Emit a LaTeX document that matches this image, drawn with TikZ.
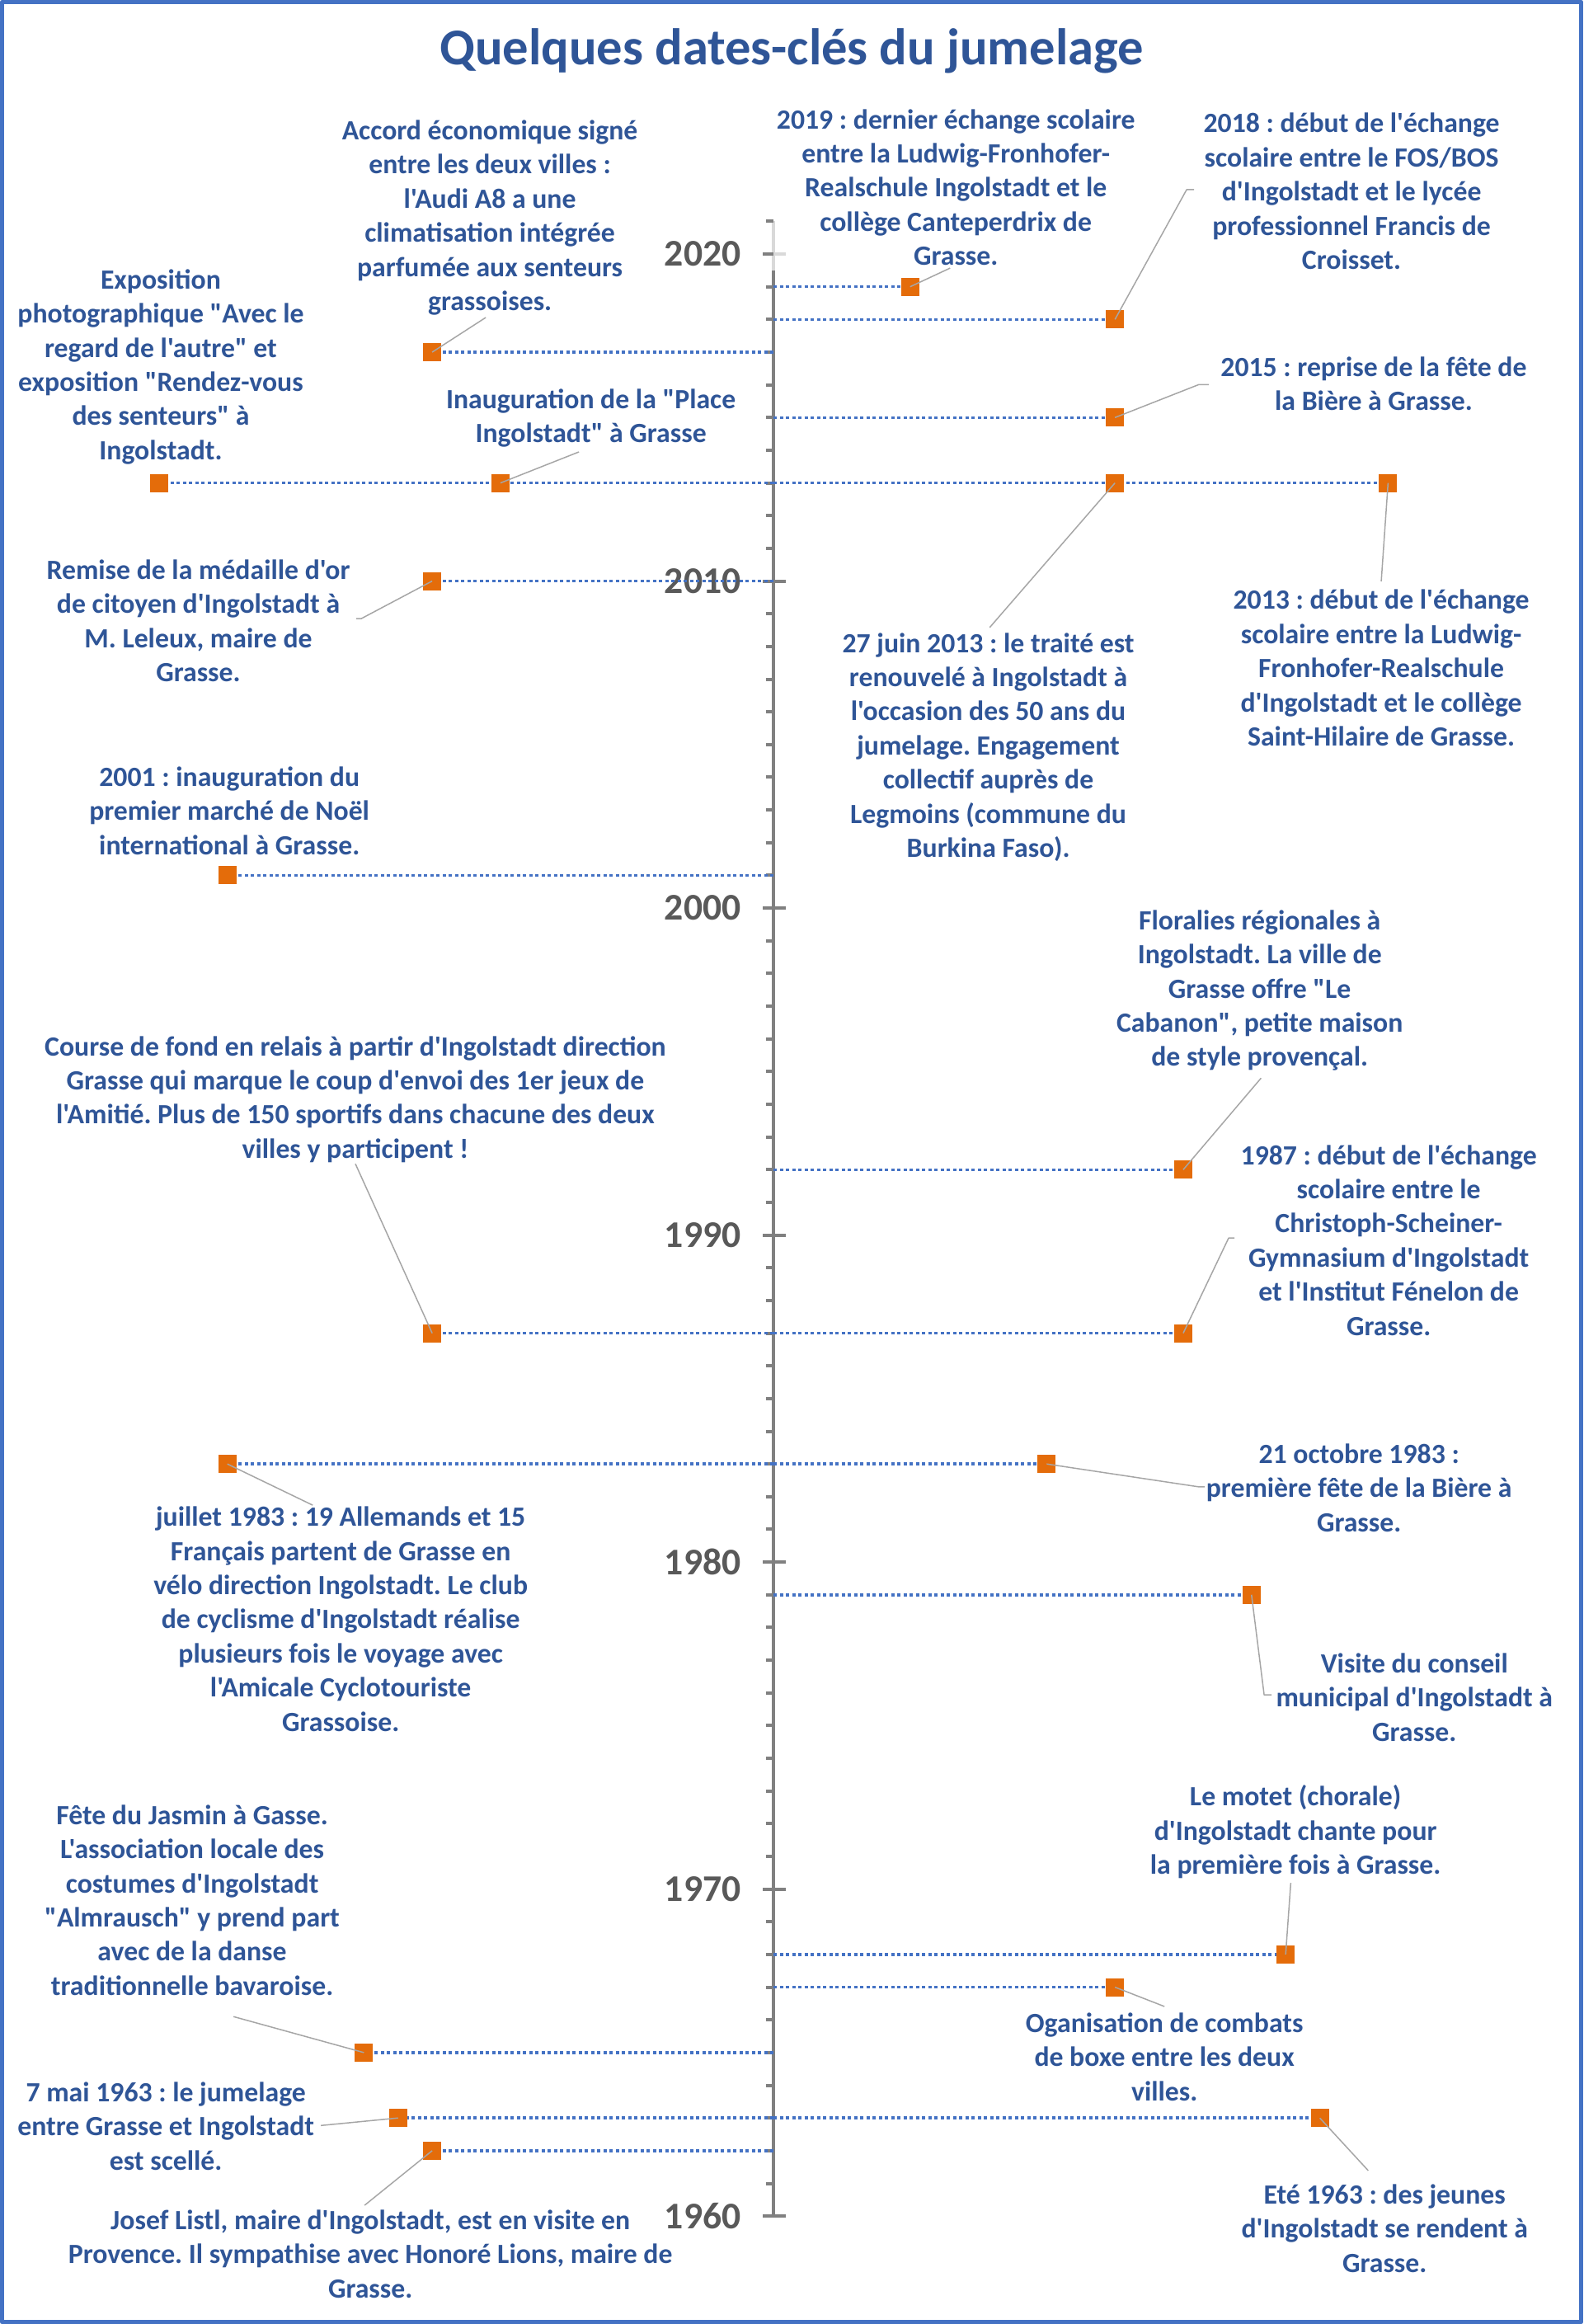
\documentclass[tikz,border=0pt]{standalone}
\usepackage{fontspec}
\setmainfont{Carlito}[Ligatures=TeXOff]
\usepackage{tikz}
\usetikzlibrary{arrows}
\usetikzlibrary{positioning}
\definecolor{axisgrey}{RGB}{128,128,128}
\definecolor{lightaxis}{RGB}{217,217,217}
\definecolor{yeargrey}{RGB}{89,89,89}
\definecolor{textblue}{RGB}{47,85,151}
\definecolor{dotblue}{RGB}{68,114,196}
\definecolor{markorange}{RGB}{228,108,10}
\definecolor{leadgrey}{RGB}{166,166,166}
\newcommand{\evfont}{\fontsize{9.6}{11.78}\selectfont\bfseries}
\frenchspacing

\begin{document}
\begin{tikzpicture}[line join=round,x=0.414cm,y=0.3965cm,
  event/.style={font=\evfont,text=textblue,align=center,inner sep=0pt},
  marker/.style={rectangle,fill=markorange,minimum size=0.22cm,inner sep=0pt},
  dotline/.style={dotblue,line width=0.035cm,dash pattern=on 0.04cm off 0.035cm},
  leader/.style={leadgrey,line width=0.015cm},
  yearlab/.style={font=\fontsize{13}{15}\selectfont\bfseries,text=yeargrey,inner sep=0pt,anchor=east}]
\useasboundingbox (-22.66,-3.30) rectangle (23.72,67.77);
\draw[dotblue,line width=0.05cm] (-22.60,-3.24) rectangle (23.66,67.71);
\node[font=\fontsize{17.8}{21}\selectfont\bfseries,text=textblue] (title) at (0.53,66.2) {Quelques dates-clés du jumelage};
% axe des annees
\draw[lightaxis,line width=0.045cm] (0,59.5) -- (0,61);
\draw[axisgrey,line width=0.045cm] (0,0) -- (0,59.5);
\foreach \y in {1,...,61}
\draw[axisgrey,line width=0.04cm] (-0.22,\y) -- (0,\y);
\foreach \y/\yr in {0/1960,10/1970,20/1980,30/1990,40/2000,50/2010}
{\draw[axisgrey,line width=0.04cm] (-0.31,\y) -- (0.36,\y);
\node[yearlab] (y\yr) at (-0.94,\y) {\yr};}
\draw[axisgrey,line width=0.04cm] (-0.31,60) -- (0,60);
\draw[lightaxis,line width=0.04cm] (0,60) -- (0.36,60);
\node[yearlab] (y2020) at (-0.94,60) {2020};
% lignes pointillees
\foreach \x/\y in {4/59,10/58,-10/57,10/55,-18/53,-8/53,10/53,18/53,-10/50,-16/41,
12/32,-10/27,12/27,-16/23,8/23,14/19,15/8,10/7,-12/5,-11/3,16/3,-10/2}
\draw[dotline] (0,\y) -- (\x,\y);
% marqueurs
\node[marker] (m2019) at (4,59) {};
\node[marker] (m2018) at (10,58) {};
\node[marker] (m2017) at (-10,57) {};
\node[marker] (m2015) at (10,55) {};
\node[marker] (m2013a) at (-18,53) {};
\node[marker] (m2013b) at (-8,53) {};
\node[marker] (m2013c) at (10,53) {};
\node[marker] (m2013d) at (18,53) {};
\node[marker] (m2010) at (-10,50) {};
\node[marker] (m2001) at (-16,41) {};
\node[marker] (m1992) at (12,32) {};
\node[marker] (m1987a) at (-10,27) {};
\node[marker] (m1987b) at (12,27) {};
\node[marker] (m1983a) at (-16,23) {};
\node[marker] (m1983b) at (8,23) {};
\node[marker] (m1979) at (14,19) {};
\node[marker] (m1968) at (15,8) {};
\node[marker] (m1967) at (10,7) {};
\node[marker] (m1965) at (-12,5) {};
\node[marker] (m1963a) at (-11,3) {};
\node[marker] (m1963b) at (16,3) {};
\node[marker] (m1962) at (-10,2) {};
% textes
\node[event] (t2019) at (5.34,62.04) {2019 : dernier échange scolaire\\entre la Ludwig-Fronhofer-\\Realschule Ingolstadt et le\\collège Canteperdrix de\\Grasse.};
\node[event] (t2018) at (16.93,61.92) {2018 : début de l'échange\\scolaire entre le FOS/BOS\\d'Ingolstadt et le lycée\\professionnel Francis de\\Croisset.};
\node[event] (t2017) at (-8.31,61.11) {Accord économique signé\\entre les deux villes :\\l'Audi A8 a une\\climatisation intégrée\\parfumée aux senteurs\\grassoises.};
\node[event] (t2015) at (17.58,56.04) {2015 : reprise de la fête de\\la Bière à Grasse.};
\node[event] (t2013a) at (-17.95,56.55) {Exposition\\photographique "Avec le\\regard de l'autre" et\\exposition "Rendez-vous\\des senteurs" à\\Ingolstadt.};
\node[event] (t2013b) at (-5.35,54.98) {Inauguration de la "Place\\Ingolstadt" à Grasse};
\node[event] (t2013c) at (6.29,44.92) {27 juin 2013 : le traité est\\renouvelé à Ingolstadt à\\l'occasion des 50 ans du\\jumelage. Engagement\\collectif auprès de\\Legmoins (commune du\\Burkina Faso).};
\node[event] (t2013d) at (17.8,47.34) {2013 : début de l'échange\\scolaire entre la Ludwig-\\Fronhofer-Realschule\\d'Ingolstadt et le collège\\Saint-Hilaire de Grasse.};
\node[event] (t2010) at (-16.85,48.78) {Remise de la médaille d'or\\de citoyen d'Ingolstadt à\\M. Leleux, maire de\\Grasse.};
\node[event] (t2001) at (-15.94,42.98) {2001 : inauguration du\\premier marché de Noël\\international à Grasse.};
\node[event] (t1992) at (14.24,37.48) {Floralies régionales à\\Ingolstadt. La ville de\\Grasse offre "Le\\Cabanon", petite maison\\de style provençal.};
\node[event] (t1987a) at (-12.25,34.15) {Course de fond en relais à partir d'Ingolstadt direction\\Grasse qui marque le coup d'envoi des 1er jeux de\\l'Amitié. Plus de 150 sportifs dans chacune des deux\\villes y participent !};
\node[event] (t1987b) at (18.02,29.84) {1987 : début de l'échange\\scolaire entre le\\Christoph-Scheiner-\\Gymnasium d'Ingolstadt\\et l'Institut Fénelon de\\Grasse.};
\node[event] (t1983a) at (-12.68,18.26) {juillet 1983 : 19 Allemands et 15\\Français partent de Grasse en\\vélo direction Ingolstadt. Le club\\de cyclisme d'Ingolstadt réalise\\plusieurs fois le voyage avec\\l'Amicale Cyclotouriste\\Grassoise.};
\node[event] (t1983b) at (17.15,22.27) {21 octobre 1983 :\\première fête de la Bière à\\Grasse.};
\node[event] (t1979) at (18.77,15.86) {Visite du conseil\\municipal d'Ingolstadt à\\Grasse.};
\node[event] (t1968) at (15.29,11.75) {Le motet (chorale)\\d'Ingolstadt chante pour\\la première fois à Grasse.};
\node[event] (t1967) at (11.45,4.87) {Oganisation de combats\\de boxe entre les deux\\villes.};
\node[event] (t1965) at (-17.03,9.66) {Fête du Jasmin à Gasse.\\L'association locale des\\costumes d'Ingolstadt\\"Almrausch" y prend part\\avec de la danse\\traditionnelle bavaroise.};
\node[event] (t1963a) at (-17.8,2.75) {7 mai 1963 : le jumelage\\entre Grasse et Ingolstadt\\est scellé.};
\node[event] (t1963b) at (17.9,-0.38) {Eté 1963 : des jeunes\\d'Ingolstadt se rendent à\\Grasse.};
\node[event] (t1962) at (-11.81,-1.16) {Josef Listl, maire d'Ingolstadt, est en visite en\\Provence. Il sympathise avec Honoré Lions, maire de\\Grasse.};
% lignes de rappel
\coordinate (c2019) at (5.17,59.57);
\coordinate (c2018) at (12.1,61.97);
\coordinate (c2017) at (-8.43,58.06);
\coordinate (c2015) at (12.46,56.01);
\coordinate (c2013b) at (-5.7,53.95);
\coordinate (c2013c) at (6.33,48.58);
\coordinate (c2013d) at (17.8,49.99);
\coordinate (c2010) at (-12.08,48.85);
\coordinate (c1992) at (14.28,34.8);
\coordinate (c1987a) at (-12.25,32.18);
\coordinate (c1987b) at (13.33,29.91);
\coordinate (c1983a) at (-13.5,21.74);
\coordinate (c1983b) at (12.46,22.3);
\coordinate (c1979) at (14.37,15.94);
\coordinate (c1968) at (15.15,10.19);
\coordinate (c1967) at (11.45,6.41);
\coordinate (c1965) at (-15.82,6.1);
\coordinate (c1963a) at (-13.26,2.77);
\coordinate (c1963b) at (17.42,1.39);
\coordinate (c1962) at (-11.98,0.33);
\draw[leader] (m2019.center) -- (c2019);
\draw[leader] (m2018.center) -- (c2018) -- ++(0.22,0);
\draw[leader] (m2017.center) -- (c2017);
\draw[leader] (m2015.center) -- (c2015) -- ++(0.29,0);
\draw[leader] (m2013b.center) -- (c2013b);
\draw[leader] (m2013c.center) -- (c2013c);
\draw[leader] (m2013d.center) -- (c2013d);
\draw[leader] (m2010.center) -- (c2010) -- ++(-0.14,0);
\draw[leader] (m1992.center) -- (c1992);
\draw[leader] (m1987a.center) -- (c1987a);
\draw[leader] (m1987b.center) -- (c1987b) -- ++(0.17,0);
\draw[leader] (m1983a.center) -- (c1983a);
\draw[leader] (m1983b.center) -- (c1983b) -- ++(0.17,0);
\draw[leader] (m1979.center) -- (c1979) -- ++(0.22,0);
\draw[leader] (m1968.center) -- (c1968);
\draw[leader] (m1967.center) -- (c1967);
\draw[leader] (m1965.center) -- (c1965);
\draw[leader] (m1963a.center) -- (c1963a);
\draw[leader] (m1963b.center) -- (c1963b);
\draw[leader] (m1962.center) -- (c1962);
\end{tikzpicture}
\end{document}
